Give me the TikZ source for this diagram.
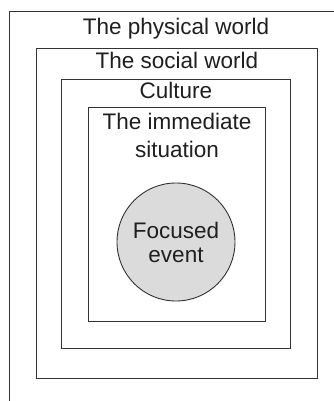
\documentclass[tikz,border=0pt]{standalone}
\usepackage{fontspec}
\setmainfont{Liberation Sans}
\usetikzlibrary{positioning}

\begin{document}
\begin{tikzpicture}[
    x = 1pt, y = -1pt,
    frame/.style = {rectangle, draw=black!80, line width=0.9pt, anchor=north west, inner sep=0pt},
    lbl/.style = {font=\fontsize{22.5}{28}\selectfont, text=black!88, align=center, inner sep=0pt, anchor=base},
    focus/.style = {circle, draw=black!80, fill=gray!28, line width=0.9pt, minimum size=118pt, inner sep=0pt, align=center, text=black!88, font=\fontsize{22.5}{24}\selectfont}
]
    \useasboundingbox (0,0) rectangle (334,401);
    \clip (0,0) rectangle (334,401);

    % nested worlds
    \node [frame, minimum width=360pt, minimum height=420pt] (physical) at (9,11) {};
    \node [frame, minimum width=281pt, minimum height=330pt] (social) at (36,48) {};
    \node [frame, minimum width=229pt, minimum height=269pt] (culture) at (61,79) {};
    \node [frame, minimum width=177pt, minimum height=214pt] (situation) at (88,107) {};
    \node [focus] (event) at (176,242) {Focused\\event};

    % titles (base of a two-line title is its last line)
    \node [lbl] (physlbl) at (176,35) {The physical world};
    \node [lbl] (soclbl) at ([yshift=-21pt]social.north) {The social world};
    \node [lbl] (cultlbl) at ([yshift=-20pt]culture.north) {Culture};
    \node [lbl] (sitlbl) at ([yshift=-50pt]situation.north) {The immediate\\situation};
\end{tikzpicture}
\end{document}
